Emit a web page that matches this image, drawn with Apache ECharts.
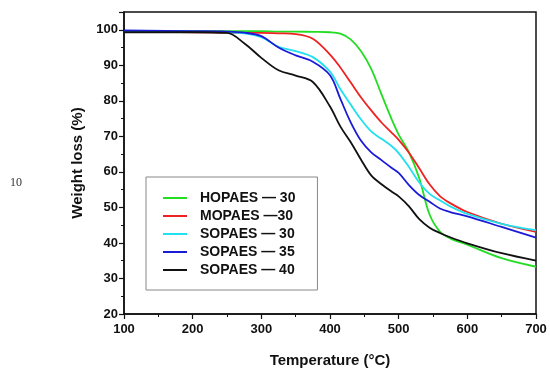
<!DOCTYPE html>
<html>
<head>
<meta charset="utf-8">
<script src="https://cdn.jsdelivr.net/npm/echarts@6/dist/echarts.min.js"></script>
<style>
  html, body { margin: 0; padding: 0; background: #fff; }
  #chart { width: 550px; height: 373px; }
</style>
</head>
<body>
<div id="chart"></div>
<script>
// temperature (°C) and weight (%)
const temps = [100, 200, 250, 275, 300, 325, 350, 375, 400, 415, 430, 445, 460, 475, 490, 500, 515, 530, 545, 560, 575, 600, 650, 700];

const hopaes30 = [99.6, 99.6, 99.6, 99.6, 99.6, 99.5, 99.5, 99.4, 99.3, 98.9, 97.3, 94.0, 89.0, 81.8, 74.7, 70.5, 65.5, 58.2, 48.0, 43.2, 41.3, 39.5, 35.7, 33.3];
const mopaes30 = [99.5, 99.3, 99.2, 99.1, 99.1, 99.0, 98.8, 97.5, 93.0, 89.4, 85.2, 81.0, 77.3, 73.9, 71.0, 69.0, 65.4, 61.0, 56.5, 53.2, 51.2, 48.7, 45.4, 43.1];
const sopaes30 = [99.5, 99.4, 99.3, 99.0, 97.9, 95.2, 94.0, 92.3, 88.2, 83.3, 79.0, 74.8, 71.4, 69.3, 67.2, 65.3, 61.4, 57.0, 53.8, 52.0, 50.3, 48.2, 45.4, 43.6];
const sopaes35 = [99.8, 99.6, 99.5, 99.2, 98.2, 95.0, 92.8, 91.0, 87.2, 80.6, 74.0, 68.8, 65.5, 63.3, 61.1, 59.7, 56.3, 53.5, 51.6, 49.7, 48.7, 47.5, 44.5, 41.5];
const sopaes40 = [99.3, 99.3, 99.1, 96.2, 92.1, 88.6, 87.1, 85.3, 78.4, 72.8, 68.4, 63.5, 59.0, 56.5, 54.4, 53.1, 50.3, 46.7, 44.3, 42.8, 41.6, 39.9, 37.1, 35.0];

const names = ['HOPAES — 30', 'MOPAES —30', 'SOPAES — 30', 'SOPAES — 35', 'SOPAES — 40'];
const colors = ['#22dd22', '#ee2222', '#22e0ee', '#1a1ad8', '#111111'];
const values = [hopaes30, mopaes30, sopaes30, sopaes35, sopaes40];

const font = 'Liberation Sans, Arial, sans-serif';
const chart = echarts.init(document.getElementById('chart'));

chart.setOption({
  animation: false,
  backgroundColor: '#fff',
  grid: {
    left: 124, right: 14, top: 12, bottom: 55,
    show: true, borderColor: '#111', borderWidth: 1.5
  },
  legend: {
    orient: 'vertical',
    left: 146, top: 177,
    padding: [14, 22, 13, 17],
    itemGap: 4,
    itemWidth: 24, itemHeight: 2,
    icon: 'rect',
    borderColor: '#888', borderWidth: 1,
    data: names,
    textStyle: { fontFamily: font, fontSize: 14, fontWeight: 'bold', color: '#111', padding: [0, 0, 0, 8] }
  },
  xAxis: {
    type: 'value',
    min: 100, max: 700, interval: 100,
    name: 'Temperature (°C)',
    nameLocation: 'middle',
    nameGap: 39,
    nameTextStyle: { fontFamily: font, fontSize: 15, fontWeight: 'bold', color: '#111' },
    axisLine: { onZero: false, lineStyle: { color: '#111', width: 1.5 } },
    axisTick: { length: 5, lineStyle: { color: '#111', width: 1.2 } },
    minorTick: { show: true, splitNumber: 2, length: 3, lineStyle: { color: '#111', width: 1 } },
    axisLabel: { fontFamily: font, fontSize: 13, fontWeight: 'bold', color: '#111', margin: 9 },
    splitLine: { show: false }
  },
  yAxis: {
    type: 'value',
    min: 20, max: 105, interval: 10,
    name: 'Weight loss (%)',
    nameLocation: 'middle',
    nameGap: 37,
    nameTextStyle: { fontFamily: font, fontSize: 15, fontWeight: 'bold', color: '#111' },
    axisLine: { show: true, lineStyle: { color: '#111', width: 1.5 } },
    axisTick: { show: true, length: 5, lineStyle: { color: '#111', width: 1.2 } },
    minorTick: { show: true, splitNumber: 2, length: 3, lineStyle: { color: '#111', width: 1 } },
    axisLabel: { fontFamily: font, fontSize: 13, fontWeight: 'bold', color: '#111', margin: 6, showMaxLabel: false },
    splitLine: { show: false }
  },
  graphic: [{
    type: 'text', left: 10, top: 177,
    style: { text: '10', fontFamily: 'Liberation Serif, serif', fontSize: 12, fill: '#333' }
  }],
  series: names.map((n, i) => ({
    name: n,
    type: 'line',
    smooth: 0.35,
    symbol: 'none',
    data: temps.map((t, j) => [t, values[i][j]]),
    lineStyle: { color: colors[i], width: 1.8 },
    itemStyle: { color: colors[i] }
  }))
});
</script>
</body>
</html>
